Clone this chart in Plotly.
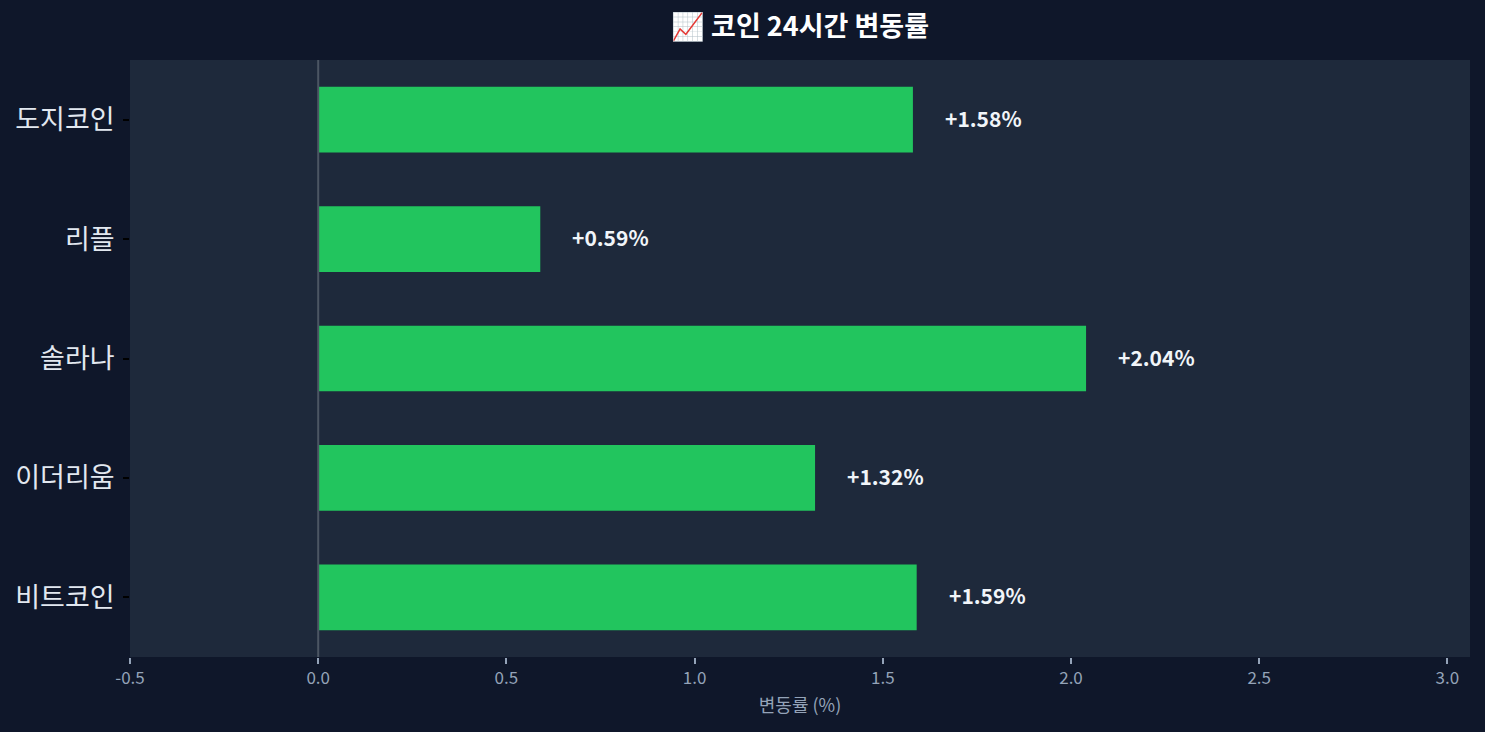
import plotly.graph_objects as go

# 코인별 24시간 변동률 (%)
coins = ["비트코인", "이더리움", "솔라나", "리플", "도지코인"]
changes = [1.59, 1.32, 2.04, 0.59, 1.58]
labels = [f"+{v:.2f}%" for v in changes]

FONT = "Noto Sans CJK KR, Noto Sans, sans-serif"

fig = go.Figure()

fig.add_trace(go.Bar(
    x=changes,
    y=coins,
    orientation="h",
    width=0.55,
    marker=dict(color="#22c55e", line=dict(width=0)),
    hoverinfo="x+y",
    showlegend=False
))

# 값 라벨 (막대 오른쪽)
for coin, val, lab in zip(coins, changes, labels):
    fig.add_annotation(
        x=val, y=coin, text=lab,
        xanchor="left", yanchor="middle",
        xshift=30, yshift=2, showarrow=False,
        font=dict(family=FONT, size=21, color="#f1f5f9", weight="bold")
    )

# 0 기준선
fig.add_vline(x=0, line=dict(color="#4b5563", width=2))

fig.update_layout(
    width=1485, height=732,
    paper_bgcolor="#0f172a",
    plot_bgcolor="#1e293b",
    margin=dict(l=130, r=15, t=60, b=75),
    title=dict(
        text="📈 코인 24시간 변동률",
        x=0.5, xref="paper", xanchor="center",
        y=0.964, yref="container", yanchor="middle",
        font=dict(family=FONT, size=27, color="#ffffff", weight="bold")
    ),
    xaxis=dict(
        range=[-0.5, 3.06],
        tickvals=[-0.5, 0, 0.5, 1.0, 1.5, 2.0, 2.5, 3.0],
        ticktext=["-0.5", "0.0", "0.5", "1.0", "1.5", "2.0", "2.5", "3.0"],
        showgrid=False, zeroline=False, showline=False,
        ticks="outside", ticklen=6, tickwidth=2, tickcolor="#94a3b8",
        tickfont=dict(family=FONT, size=17, color="#94a3b8"),
        title=dict(text="변동률 (%)", standoff=10,
                   font=dict(family=FONT, size=18, color="#94a3b8"))
    ),
    yaxis=dict(
        range=[-0.5, 4.5],
        showgrid=False, zeroline=False, showline=False,
        ticks="outside", ticklen=6, tickwidth=2, tickcolor="#000000",
        ticklabelstandoff=3,
        tickfont=dict(family=FONT, size=27, color="#e2e8f0")
    ),
    bargap=0.45
)

fig.write_html(
    "out.html",
    config={"displayModeBar": False},
    post_script="document.body.style.margin='0';document.body.style.overflow='hidden';"
)
